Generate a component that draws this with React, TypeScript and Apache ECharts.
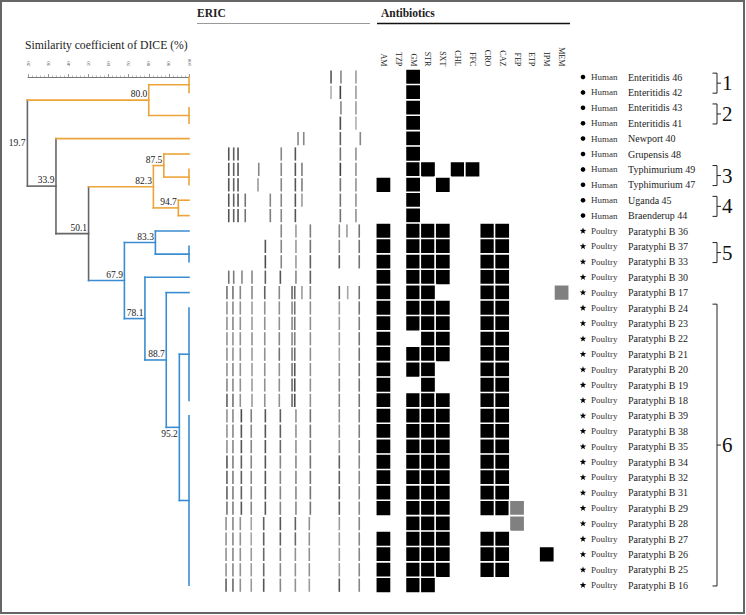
import React, { useEffect, useRef } from 'react';
import * as echarts from 'echarts';

const strains = [
  'Enteritidis 46', 'Enteritidis 42', 'Enteritidis 43', 'Enteritidis 41', 'Newport 40', 'Grupensis 48',
  'Typhimurium 49', 'Typhimurium 47', 'Uganda 45', 'Braenderup 44',
  'Paratyphi B 36', 'Paratyphi B 37', 'Paratyphi B 33', 'Paratyphi B 30', 'Paratyphi B 17',
  'Paratyphi B 24', 'Paratyphi B 23', 'Paratyphi B 22', 'Paratyphi B 21', 'Paratyphi B 20',
  'Paratyphi B 19', 'Paratyphi B 18', 'Paratyphi B 39', 'Paratyphi B 38', 'Paratyphi B 35',
  'Paratyphi B 34', 'Paratyphi B 32', 'Paratyphi B 31', 'Paratyphi B 29', 'Paratyphi B 28',
  'Paratyphi B 27', 'Paratyphi B 26', 'Paratyphi B 25', 'Paratyphi B 16',
];
const hosts = [
  'Human', 'Human', 'Human', 'Human', 'Human', 'Human', 'Human', 'Human', 'Human', 'Human',
  'Poultry', 'Poultry', 'Poultry', 'Poultry', 'Poultry', 'Poultry', 'Poultry', 'Poultry',
  'Poultry', 'Poultry', 'Poultry', 'Poultry', 'Poultry', 'Poultry', 'Poultry', 'Poultry',
  'Poultry', 'Poultry', 'Poultry', 'Poultry', 'Poultry', 'Poultry', 'Poultry', 'Poultry',
];

const antibiotics = ['AM', 'TZP', 'GM', 'STR', 'SXT', 'CHL', 'FFC', 'CRO', 'CAZ', 'FEP', 'ETP', 'IPM', 'MEM'];
// 1 = resistant (black), 2 = intermediate (grey), 0 = none
const resistance = [
  '0010000000000', '0010000000000', '0010000000000', '0010000000000', '0010000000000',
  '0010000000000', '0011011000000', '1010100000000', '0010000000000', '0010000000000',
  '1011100110000', '1011100110000', '1011100110000', '1011100110000', '1011000110002',
  '1011100110000', '1011100110000', '1001100110000', '1011100110000', '1011000110000',
  '1001000110000', '1011100110000', '1011100110000', '1011100110000', '1011100110000',
  '1011100110000', '1011100110000', '1011100110000', '1011100112000', '0011100002000',
  '1011100110000', '1011100110010', '1011100110000', '1011000000000',
];

// ERIC-PCR bands per strain: [relative migration position, intensity]
const ericBands: number[][][] = [
  [[72.7, .75], [79.3, .5], [89.3, .4]],
  [[72.7, .3], [78.9, .85], [89.3, .4]],
  [[79.3, .5], [89.3, .4]],
  [[78.9, .8], [89.3, .3]],
  [[50.7, .5], [54.5, .5], [78.9, .7], [92.2, .5]],
  [[4.5, .75], [7.8, .7], [10.7, .75], [39.5, .5], [48.9, .75], [78.9, .6], [89.3, .45]],
  [[4.5, .75], [7.8, .7], [10.7, .75], [24.5, .5], [39.5, .5], [48.9, .75], [53.3, .55], [78.9, .85], [89.3, .45]],
  [[4.5, .75], [7.8, .7], [10.7, .75], [24, .4], [39.5, .5], [48.9, .75], [53.3, .55], [78.9, .6], [89.3, .45]],
  [[4.5, .75], [7.8, .7], [10.7, .75], [15.5, .6], [32.2, .5], [39.5, .5], [48.9, .75], [53.3, .4], [78.9, .6], [89.3, .45]],
  [[4.5, .75], [7.8, .7], [10.7, .75], [15.5, .6], [32.2, .55], [39.5, .5], [48.9, .75], [78.9, .6], [89.3, .45]],
  [[39.5, .5], [49.3, .4], [58.9, .55], [78.2, .5], [83.3, .4], [91.5, .6]],
  [[28.9, .75], [39.5, .5], [49.3, .4], [58.9, .6], [78.2, .5], [91.5, .6]],
  [[28.9, .8], [39.5, .5], [49.3, .4], [58.9, .7], [78.2, .7], [91.5, .6]],
  [[4.5, .6], [7.8, .55], [13.3, .5], [20, .5], [28.9, .7], [38.9, .75], [49.3, .5], [58.9, .7]],
  [[3.3, .6], [7.3, .6], [12.2, .5], [20, .5], [28.5, .7], [38.2, .5], [46.7, .65], [48.5, .65], [53.3, .4], [58.9, .5], [78.2, .7], [83.8, .35], [91.5, .6]],
  [[3.3, .45], [7.3, .5], [12.2, .45], [20, .4], [28.5, .45], [38.2, .45], [46.7, .5], [48.5, .6], [58.9, .45], [78.2, .4], [91.5, .6]],
  [[3.3, .45], [7.3, .5], [12.2, .45], [20, .4], [28.5, .45], [38.2, .45], [46.7, .5], [48.5, .6], [58.9, .45], [78.2, .4], [91.5, .55]],
  [[3.3, .45], [7.3, .45], [12.2, .45], [20, .45], [28.5, .45], [38.2, .5], [46.7, .5], [48.5, .55], [58.9, .45], [78.2, .4], [91.5, .6]],
  [[3.3, .45], [7.3, .45], [12.2, .45], [20, .4], [28.5, .45], [38.2, .6], [46.7, .55], [48.5, .65], [58.9, .45], [78.2, .35], [91.5, .6]],
  [[3.3, .45], [7.3, .5], [12.2, .45], [20, .4], [28.5, .45], [38.2, .45], [46.7, .6], [48.5, .75], [58.9, .45], [78.2, .45], [91.5, .6]],
  [[3.3, .5], [7.3, .5], [12.2, .45], [20, .4], [28.5, .45], [38.2, .45], [46.7, .65], [48.5, .8], [58.9, .45], [78.2, .5], [91.5, .6]],
  [[3.3, .7], [7.3, .6], [12.2, .45], [20, .4], [28.5, .45], [38.2, .45], [46.7, .65], [48.5, .8], [58.9, .45], [78.2, .5], [91.5, .6]],
  [[3.3, .45], [7.3, .5], [12.9, .8], [19.5, .55], [28.9, .75], [38.9, .7], [49.3, .45], [58.9, .6], [78.2, .45], [91.5, .55]],
  [[3.3, .45], [7.3, .5], [12.9, .75], [19.5, .5], [28.9, .75], [38.9, .7], [49.3, .45], [58.9, .6], [78.2, .45], [91.5, .55]],
  [[3.3, .45], [7.3, .5], [12.9, .75], [19.5, .5], [28.9, .75], [38.9, .65], [49.3, .45], [58.9, .55], [78.2, .45], [91.5, .55]],
  [[3.3, .75], [7.3, .55], [12.9, .7], [19.5, .5], [28.9, .75], [38.9, .5], [49.3, .5], [58.9, .6], [78.2, .7], [91.5, .5]],
  [[3.3, .7], [7.3, .55], [12.9, .7], [19.5, .5], [28.9, .75], [38.9, .5], [49.3, .5], [58.9, .6], [78.2, .7], [91.5, .5]],
  [[3.3, .7], [7.3, .55], [12.9, .7], [19.5, .5], [28.9, .75], [38.9, .5], [49.3, .5], [58.9, .6], [78.2, .7], [91.5, .5]],
  [[3.3, .6], [7.3, .55], [12.9, .75], [19.5, .5], [28.9, .75], [38.9, .5], [49.3, .5], [58.9, .6], [78.2, .7], [91.5, .5]],
  [[2.7, .45], [7.3, .5], [12.2, .45], [19.5, .35], [27.8, .7], [38.9, .75], [48.9, .7], [58.2, .45], [78.2, .4], [91.5, .5]],
  [[2.7, .45], [7.3, .5], [12.2, .45], [19.5, .35], [27.8, .7], [38.9, .7], [48.9, .65], [58.2, .45], [78.2, .4], [91.5, .5]],
  [[2.7, .45], [7.3, .5], [12.2, .45], [19.5, .4], [27.8, .65], [38.9, .5], [48.9, .45], [58.2, .45], [78.2, .4], [91.5, .5]],
  [[2.7, .45], [7.3, .5], [12.2, .45], [19.5, .4], [27.8, .65], [38.9, .5], [48.9, .45], [58.2, .45], [78.2, .4], [91.5, .5]],
  [[2.7, .7], [7.3, .65], [12.2, .45], [19.5, .4], [27.8, .75], [38.9, .5], [48.9, .45], [58.2, .4], [78.2, .75], [91.5, .5]],
];

// Dendrogram: leaf groups (identical profiles, 100 %) and merges (DICE similarity)
const groupFirst = [0, 2, 4, 5, 6, 8, 9, 10, 11, 13, 14, 15, 22];
const groupLast = [1, 3, 4, 5, 7, 8, 9, 10, 12, 13, 14, 21, 33];
const groupHost = ['Human', 'Human', 'Human', 'Human', 'Human', 'Human', 'Human',
  'Poultry', 'Poultry', 'Poultry', 'Poultry', 'Poultry', 'Poultry'];
const merges: [string, string, number][] = [
  ['G0', 'G1', 80.0], ['G3', 'G4', 87.5], ['G5', 'G6', 94.7], ['N1', 'N2', 82.3],
  ['G7', 'G8', 83.3], ['G11', 'G12', 95.2], ['G10', 'N5', 88.7], ['G9', 'N6', 78.1],
  ['N4', 'N7', 67.9], ['N3', 'N8', 50.1], ['G2', 'N9', 33.9], ['N0', 'N10', 19.7],
];
const mergeLineage = ['Human', 'Human', 'Human', 'Human', 'Poultry', 'Poultry', 'Poultry',
  'Poultry', 'Poultry', 'mixed', 'mixed', 'mixed'];

const clusterNames = ['1', '2', '3', '4', '5', '6'];
const clusterFirst = [0, 2, 6, 8, 11, 15];
const clusterLast = [1, 3, 7, 9, 12, 33];

const FONT = "'Liberation Serif', 'Times New Roman', serif";
const ORANGE = '#ECA43A';
const BLUE = '#3A8DD2';
const GRAY = '#666666';
const labelPlacement = ['above', 'above', 'above', 'above', 'above', 'below', 'above',
  'above', 'above', 'above', 'above', 'left'];

function starPoints(cx: number, cy: number, R: number, r: number) {
  const pts: number[][] = [];
  for (let k = 0; k < 10; k++) {
    const a = -Math.PI / 2 + (k * Math.PI) / 5;
    const rad = k % 2 === 0 ? R : r;
    pts.push([cx + rad * Math.cos(a), cy + rad * Math.sin(a)]);
  }
  return pts;
}

export default function App() {
  const ref = useRef<HTMLDivElement>(null);
  useEffect(() => {
    const chart = echarts.init(ref.current!, null, { renderer: 'svg' });
    const lineColor = (k: string) => (k === 'Human' ? ORANGE : k === 'Poultry' ? BLUE : GRAY);

    const nodes: Record<string, { x: number; y: number; c: string }> = {};
    groupFirst.forEach((f, i) => {
      nodes['G' + i] = { x: 100, y: (f + groupLast[i]) / 2, c: lineColor(groupHost[i]) };
    });
    const segs: number[][] = [];
    const segColors: string[] = [];
    const nodePts: number[][] = [];
    merges.forEach(([a, b, s], i) => {
      const A = nodes[a];
      const B = nodes[b];
      const c = lineColor(mergeLineage[i]);
      const y = (A.y + B.y) / 2;
      nodes['N' + i] = { x: s, y, c };
      segs.push([s, A.y, s, B.y]); segColors.push(c);
      segs.push([s, A.y, A.x, A.y]); segColors.push(A.c);
      segs.push([s, B.y, B.x, B.y]); segColors.push(B.c);
      nodePts.push([s, y]);
    });
    groupFirst.forEach((f, i) => {
      if (groupLast[i] > f) {
        segs.push([100, f, 100, groupLast[i]]);
        segColors.push(lineColor(groupHost[i]));
      }
    });

    const bandData: number[][] = [];
    ericBands.forEach((row, r) => row.forEach(([p, v]) => bandData.push([p, r, v])));

    const heatData: any[] = [];
    resistance.forEach((s, r) => {
      for (let c = 0; c < s.length; c++) {
        const v = Number(s[c]);
        if (v > 0) heatData.push([c, r, v]);
      }
    });

    const gridTop = 69.3;
    const gridH = 523.6;
    const rowAxis = (gridIndex: number) => ({
      type: 'value', gridIndex, min: -0.5, max: 33.5, inverse: true, show: false,
    });

    const option: any = {
      animation: false,
      backgroundColor: '#fff',
      grid: [
        { left: 28, top: gridTop, width: 161, height: gridH },
        { left: 222, top: gridTop, width: 150, height: gridH },
        { left: 376, top: gridTop, width: 193, height: gridH },
        { left: 578, top: gridTop, width: 160, height: gridH },
      ],
      xAxis: [
        {
          type: 'value', gridIndex: 0, min: 20, max: 100, interval: 10, position: 'top',
          axisLine: { show: true, lineStyle: { color: '#555', width: 0.8 } },
          axisTick: { show: true, length: 3, lineStyle: { color: '#555', width: 0.6 } },
          minorTick: { show: true, splitNumber: 5, length: 1.5, lineStyle: { color: '#777', width: 0.5 } },
          axisLabel: { fontSize: 5, rotate: 90, margin: 3, color: '#555', fontFamily: FONT },
          splitLine: { show: false },
        },
        { type: 'value', gridIndex: 1, min: 0, max: 100, show: false },
        {
          type: 'category', gridIndex: 2, data: antibiotics, position: 'top',
          axisLine: { show: false }, axisTick: { show: false },
          axisLabel: { rotate: 90, fontSize: 8, fontFamily: FONT, color: '#222', margin: 3, interval: 0 },
        },
        { type: 'value', gridIndex: 3, min: 0, max: 160, show: false },
      ],
      yAxis: [
        rowAxis(0),
        rowAxis(1),
        { type: 'category', gridIndex: 2, data: strains, inverse: true, show: false },
        rowAxis(3),
      ],
      visualMap: {
        type: 'piecewise', show: false, seriesIndex: 3, dimension: 2,
        pieces: [{ value: 1, color: '#000000' }, { value: 2, color: '#808080' }],
      },
      series: [
        {
          type: 'custom', xAxisIndex: 0, yAxisIndex: 0, clip: false, silent: true,
          data: segs,
          renderItem: (p: any, api: any) => {
            const a = api.coord([api.value(0), api.value(1)]);
            const b = api.coord([api.value(2), api.value(3)]);
            return {
              type: 'line',
              shape: { x1: a[0], y1: a[1], x2: b[0], y2: b[1] },
              style: { stroke: segColors[p.dataIndex], lineWidth: 1.6, lineCap: 'square' },
            };
          },
        },
        {
          type: 'custom', xAxisIndex: 0, yAxisIndex: 0, clip: false, silent: true,
          data: nodePts,
          renderItem: (p: any, api: any) => {
            const [x, y] = api.coord([api.value(0), api.value(1)]);
            const pl = labelPlacement[p.dataIndex];
            return {
              type: 'text',
              x: x - (pl === 'left' ? 2 : 1.5),
              y: pl === 'above' ? y - 0.8 : pl === 'below' ? y + 1.5 : y,
              style: {
                text: merges[p.dataIndex][2].toFixed(1), fontSize: 9.5, fontFamily: FONT, fill: '#222',
                align: 'right', verticalAlign: pl === 'above' ? 'bottom' : pl === 'below' ? 'top' : 'middle',
              },
            };
          },
        },
        {
          type: 'custom', xAxisIndex: 1, yAxisIndex: 1, clip: false, silent: true,
          data: bandData,
          renderItem: (p: any, api: any) => {
            const [x, y] = api.coord([api.value(0), api.value(1)]);
            const h = api.size([0, 1])[1] * 0.86;
            const g = Math.round(235 - api.value(2) * 200);
            return {
              type: 'rect',
              shape: { x: x - 0.8, y: y - h / 2, width: 1.6, height: h },
              style: { fill: `rgb(${g},${g},${g})` },
            };
          },
        },
        {
          type: 'heatmap', xAxisIndex: 2, yAxisIndex: 2, silent: true,
          data: heatData,
          itemStyle: { borderColor: '#ffffff', borderWidth: 1.6 },
          emphasis: { disabled: true },
        },
        {
          type: 'custom', xAxisIndex: 3, yAxisIndex: 3, clip: false, silent: true,
          data: strains.map((_, i) => [0, i]),
          renderItem: (p: any, api: any) => {
            const [x, y] = api.coord([0, api.value(1)]);
            const i = p.dataIndex;
            const marker = hosts[i] === 'Human'
              ? { type: 'circle', shape: { cx: x + 5, cy: y, r: 2.3 }, style: { fill: '#000' } }
              : { type: 'polygon', shape: { points: starPoints(x + 5, y, 3.4, 1.4) }, style: { fill: '#000' } };
            return {
              type: 'group',
              children: [
                marker,
                { type: 'text', x: x + 13, y, style: { text: hosts[i], fontSize: 9, fontFamily: FONT, fill: '#333', align: 'left', verticalAlign: 'middle' } },
                { type: 'text', x: x + 50, y, style: { text: strains[i], fontSize: 10, fontFamily: FONT, fill: '#222', align: 'left', verticalAlign: 'middle' } },
              ],
            };
          },
        },
        {
          type: 'custom', xAxisIndex: 3, yAxisIndex: 3, clip: false, silent: true,
          data: clusterFirst.map((f, i) => [f, clusterLast[i]]),
          renderItem: (p: any, api: any) => {
            const top = api.coord([0, api.value(0) - 0.25])[1];
            const bot = api.coord([0, api.value(1) + 0.05])[1];
            const bx = api.coord([139, 0])[0];
            const mid = (top + bot) / 2;
            return {
              type: 'group',
              children: [
                { type: 'polyline', shape: { points: [[bx - 4.5, top], [bx, top], [bx, bot], [bx - 4.5, bot]] }, style: { stroke: '#222', lineWidth: 1, fill: null } },
                { type: 'line', shape: { x1: bx, y1: mid, x2: bx + 4, y2: mid }, style: { stroke: '#222', lineWidth: 1 } },
                { type: 'text', x: bx + 5, y: mid, style: { text: clusterNames[p.dataIndex], fontSize: 21, fontFamily: FONT, fill: '#111', align: 'left', verticalAlign: 'middle' } },
              ],
            };
          },
        },
      ],
      graphic: [
        { type: 'rect', silent: true, z: 100, shape: { x: 1, y: 1, width: 743, height: 612 }, style: { fill: 'none', stroke: '#666', lineWidth: 2 } },
        { type: 'text', silent: true, x: 25, y: 45, style: { text: 'Similarity coefficient of DICE (%)', fontSize: 11.7, fontFamily: FONT, fill: '#222', align: 'left', verticalAlign: 'middle' } },
        { type: 'text', silent: true, x: 197, y: 13, style: { text: 'ERIC', fontSize: 11.5, fontFamily: FONT, fill: '#222', fontWeight: 'bold', align: 'left', verticalAlign: 'middle' } },
        { type: 'line', silent: true, shape: { x1: 197, y1: 23.5, x2: 370, y2: 23.5 }, style: { stroke: '#999', lineWidth: 1 } },
        { type: 'text', silent: true, x: 381, y: 13, style: { text: 'Antibiotics', fontSize: 11.5, fontFamily: FONT, fill: '#222', fontWeight: 'bold', align: 'left', verticalAlign: 'middle' } },
        { type: 'line', silent: true, shape: { x1: 377, y1: 23.5, x2: 570, y2: 23.5 }, style: { stroke: '#111', lineWidth: 1.5 } },
      ],
    };
    chart.setOption(option);
    return () => chart.dispose();
  }, []);
  return (
    <div
      ref={ref}
      style={{ position: 'absolute', left: 0, top: 0, width: 746, height: 615, background: '#fff' }}
    />
  );
}
